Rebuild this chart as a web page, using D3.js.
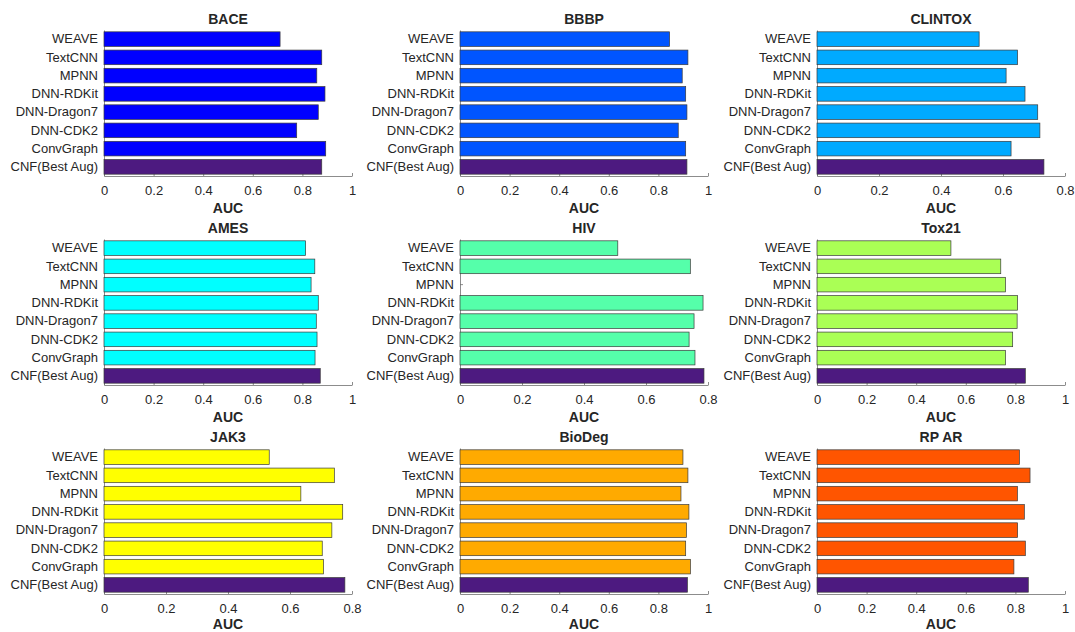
<!DOCTYPE html>
<html>
<head>
<meta charset="utf-8">
<script src="https://cdn.jsdelivr.net/npm/d3@7"></script>
<style>
  body { margin: 0; background: #fff; }
  svg text { font-family: "Liberation Sans", Arial, Helvetica, sans-serif; fill: #262626; }
  .axis path, .axis line { stroke: #6e6e6e; stroke-width: 0.8; }
  .axis text { font-size: 13px; }
  .title, .xlabel { font-weight: bold; font-size: 14px; }
</style>
</head>
<body>
<div id="vis"></div>
<script>
var methods = ['WEAVE', 'TextCNN', 'MPNN', 'DNN-RDKit', 'DNN-Dragon7', 'DNN-CDK2', 'ConvGraph', 'CNF(Best Aug)'];

var titles = ['BACE', 'BBBP', 'CLINTOX', 'AMES', 'HIV', 'Tox21', 'JAK3', 'BioDeg', 'RP AR'];

var bace    = [0.710, 0.878, 0.858, 0.891, 0.864, 0.777, 0.894, 0.878];
var bbbp    = [0.845, 0.919, 0.896, 0.910, 0.915, 0.880, 0.910, 0.915];
var clintox = [0.523, 0.647, 0.610, 0.671, 0.712, 0.719, 0.626, 0.732];
var ames    = [0.813, 0.850, 0.835, 0.864, 0.856, 0.859, 0.851, 0.872];
var hiv     = [0.509, 0.743, 0.000, 0.784, 0.755, 0.739, 0.758, 0.787];
var tox21   = [0.540, 0.741, 0.760, 0.809, 0.807, 0.789, 0.760, 0.840];
var jak3    = [0.533, 0.743, 0.635, 0.770, 0.735, 0.704, 0.708, 0.777];
var biodeg  = [0.899, 0.919, 0.891, 0.923, 0.913, 0.910, 0.929, 0.917];
var rpar    = [0.816, 0.859, 0.808, 0.836, 0.809, 0.840, 0.794, 0.852];

var xMax = [1, 1, 0.8, 1, 0.8, 1, 0.8, 1, 1];

var panelColors = ['#0000ff', '#0055ff', '#00aaff', '#00ffff', '#55ffaa', '#aaff55', '#ffff00', '#ffaa00', '#ff5500'];
var cnfColor = '#4d1a80';

var allValues = [bace, bbbp, clintox, ames, hiv, tox21, jak3, biodeg, rpar];

var width = 1075;
var height = 632;
var colLeft = [104, 460, 817];
var rowTop = [30, 239, 448];
var labelGap = [37, 37, 35];
var plotW = 248;
var plotH = 146;

var svg = d3.select('#vis')
  .append('svg')
  .attr('width', width)
  .attr('height', height);

titles.forEach(function (title, i) {
  var col = i % 3;
  var row = Math.floor(i / 3);
  var vals = allValues[i];

  var g = svg.append('g')
    .attr('transform', 'translate(' + colLeft[col] + ',' + rowTop[row] + ')');

  var x = d3.scaleLinear().domain([0, xMax[i]]).range([0, plotW]);
  var y = d3.scaleBand().domain(methods).range([0, plotH])
    .paddingInner(0.2).paddingOuter(0.1);

  var ticks = d3.range(0, xMax[i] + 0.001, 0.2);

  g.append('g')
    .attr('class', 'axis')
    .attr('transform', 'translate(0,' + plotH + ')')
    .call(d3.axisBottom(x)
      .tickValues(ticks)
      .tickFormat(d3.format('~g'))
      .tickSizeInner(-3)
      .tickSizeOuter(0)
      .tickPadding(10));

  g.append('g')
    .attr('class', 'axis')
    .call(d3.axisLeft(y)
      .tickSizeInner(-3)
      .tickSizeOuter(0)
      .tickPadding(6));

  g.selectAll('.bar')
    .data(vals)
    .enter()
    .append('rect')
    .attr('class', 'bar')
    .attr('x', x(0))
    .attr('y', function (d, j) { return y(methods[j]); })
    .attr('width', function (d) { return x(d) - x(0); })
    .attr('height', y.bandwidth())
    .attr('fill', function (d, j) { return j === methods.length - 1 ? cnfColor : panelColors[i]; })
    .attr('stroke', '#3a3a3a')
    .attr('stroke-width', 0.7);

  g.append('text')
    .attr('class', 'title')
    .attr('x', plotW / 2)
    .attr('y', -6)
    .attr('text-anchor', 'middle')
    .text(title);

  g.append('text')
    .attr('class', 'xlabel')
    .attr('x', plotW / 2)
    .attr('y', plotH + labelGap[row])
    .attr('text-anchor', 'middle')
    .text('AUC');
});
</script>
</body>
</html>
